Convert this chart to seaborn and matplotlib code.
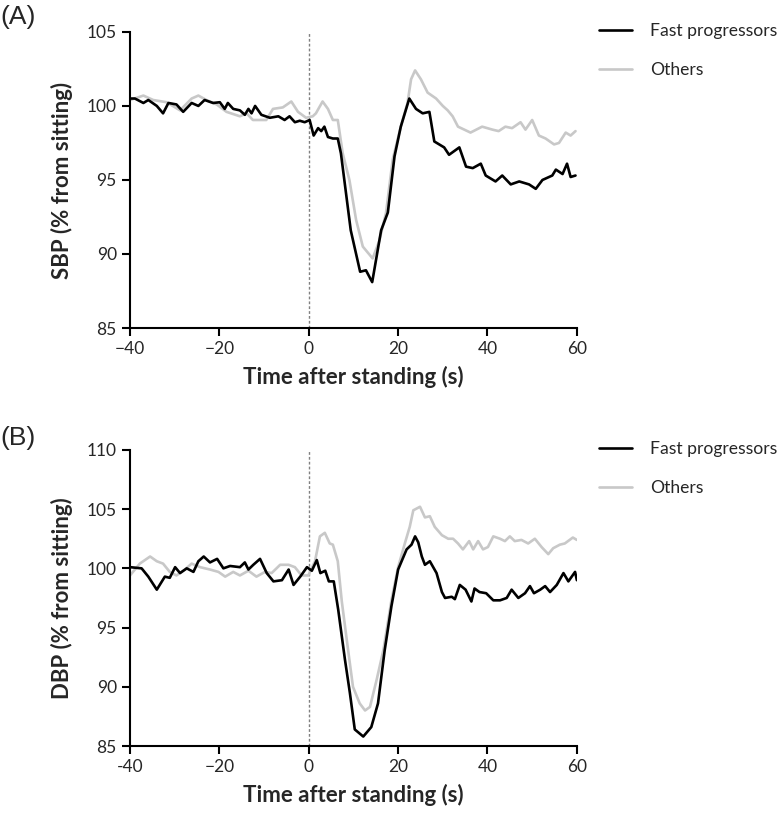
import matplotlib
matplotlib.use("Agg")
import matplotlib.pyplot as plt
import pandas as pd
import seaborn as sns

# ---- data ----
sbp_fast_t = [-40, -38.9, -37, -35.9, -34, -32.6, -31.4, -29.6, -28.1, -26.2, -24.7, -23.3, -21.4, -19.9,
              -18.8, -18.1, -16.9, -15.4, -14.3, -13.5, -12.8, -12, -10.6, -8.7, -6.8, -5.4, -4.3, -3.1,
              -2.0, -0.9, 0.2, 1.1, 2.1, 2.8, 3.5, 4.3, 5.4, 6.5, 7.2, 9.4, 11.5, 12.8, 13.5, 14.2, 16.2,
              17.7, 19.2, 20.6, 22.5, 24, 25.5, 27, 28.1, 30.3, 31.4, 33.7, 35.2, 36.7, 38.5, 39.6, 41.8,
              43.3, 45.2, 47.1, 49.3, 50.8, 52.3, 54.5, 55.3, 56.8, 57.8, 58.6, 59.7]
sbp_fast = [100.5, 100.5, 100.2, 100.4, 100.0, 99.5, 100.2, 100.1, 99.6, 100.2, 100.0, 100.4, 100.2, 100.25,
            99.8, 100.2, 99.8, 99.7, 99.4, 99.8, 99.5, 100.0, 99.4, 99.2, 99.3, 99.05, 99.3, 98.9,
            99.0, 98.9, 99.05, 98.0, 98.5, 98.3, 98.6, 97.9, 97.8, 97.8, 96.8, 91.6, 88.8, 88.9, 88.5, 88.1, 91.6,
            92.8, 96.6, 98.6, 100.5, 99.8, 99.5, 99.6, 97.6, 97.2, 96.7, 97.2, 95.9, 95.8, 96.1, 95.3, 94.9,
            95.3, 94.7, 94.9, 94.7, 94.4, 95.0, 95.3, 95.7, 95.4, 96.1, 95.2, 95.3]

sbp_other_t = [-40, -37, -34.8, -31.8, -28.8, -26.2, -24.7, -22.9, -20.6, -18.4, -15.4, -13.9, -12.5, -9.5,
               -8.0, -5.8, -3.9, -2.4, -0.6, 0.9, 1.6, 3.1, 4.3, 5.4, 6.5, 7.6, 9.1, 10.6, 12.1, 14.3, 15.8,
               17.3, 18.8, 20.6, 22.1, 22.9, 23.8, 25.1, 26.6, 28.5, 30, 31.1, 32.2, 33.4, 36.2, 38.8, 41.1,
               42.5, 44, 45.5, 47.4, 48.5, 50, 51.5, 53, 54.9, 56, 57.5, 58.6, 59.7]
sbp_other = [100.4, 100.7, 100.4, 100.25, 99.7, 100.5, 100.7, 100.4, 100.1, 99.6, 99.3, 99.5, 99.05, 99.05,
             99.8, 99.9, 100.3, 99.6, 99.2, 99.3, 99.5, 100.3, 99.8, 99.05, 99.05, 96.8, 95.0, 92.3, 90.5, 89.7, 90.9,
             92.8, 96.4, 98.6, 100.2, 101.8, 102.4, 101.8, 100.9, 100.5, 100.0, 99.7, 99.3, 98.6, 98.2, 98.6, 98.4,
             98.3, 98.6, 98.5, 98.9, 98.4, 99.05, 98.0, 97.8, 97.4, 97.5, 98.2, 98.0, 98.3]

dbp_fast_t = [-40, -37.4, -35.9, -34.0, -32.2, -31.1, -29.9, -28.8, -27.3, -25.8, -24.7, -23.5, -22.1, -20.5,
              -19.1, -17.6, -15.4, -14.3, -13.5, -12.4, -10.9, -9.4, -7.9, -6.0, -4.5, -3.4, -1.9, -0.4, 0.7,
              1.8, 2.6, 3.7, 4.5, 5.6, 6.6, 8.1, 9.2, 10.3, 12.2, 14.0, 15.5, 17.0, 18.5, 20.0, 21.9, 23.0,
              23.8, 24.5, 25.3, 26.0, 27.1, 28.6, 29.8, 30.5, 32.0, 32.7, 33.8, 35.1, 36.4, 37.1, 38.2, 39.7,
              41.3, 42.8, 44.3, 45.4, 46.9, 48.4, 49.5, 50.4, 51.8, 52.9, 54.0, 55.5, 57.0, 58.1, 59.6, 60]
dbp_fast = [100.1, 100.0, 99.3, 98.2, 99.3, 99.2, 100.1, 99.6, 100.0, 99.7, 100.6, 101.0, 100.5, 100.8,
            100.0, 100.2, 100.1, 100.5, 99.9, 100.3, 100.8, 99.6, 98.9, 99.0, 99.9, 98.6, 99.3, 100.1, 99.8,
            100.7, 99.6, 99.8, 98.9, 98.9, 96.5, 92.3, 89.5, 86.4, 85.8, 86.6, 88.6, 93.1, 96.8, 99.9, 101.6, 102.0,
            102.7, 102.2, 101.0, 100.3, 100.6, 99.6, 98.0, 97.5, 97.6, 97.4, 98.6, 98.2, 97.2, 98.3, 98.0, 97.9,
            97.3, 97.3, 97.5, 98.2, 97.5, 97.9, 98.5, 97.9, 98.2, 98.5, 98.0, 98.6, 99.6, 98.9, 99.7, 99.0]

dbp_other_t = [-40, -37.8, -35.5, -34, -32.6, -31.1, -29.6, -27.7, -26.2, -24.3, -22.1, -20.2, -18.7, -16.9,
               -15.4, -13.5, -11.7, -9.8, -8.3, -6.4, -4.5, -3.1, -1.6, -0.1, 1.4, 2.5, 3.6, 4.7, 5.4, 6.5,
               7.4, 8.6, 9.9, 11.4, 12.6, 13.7, 15.2, 16.7, 18.5, 20, 21.5, 22.6, 23.4, 24.9, 26.0, 27.1, 28.2,
               29.8, 31.2, 32.3, 33.4, 34.5, 35.9, 36.8, 37.9, 39.0, 40.1, 41.3, 42.8, 43.9, 45.0, 46.1, 47.6,
               49.1, 50.6, 52.1, 53.6, 54.7, 56.2, 57.3, 59.1, 60]
dbp_other = [99.4, 100.4, 101.0, 100.6, 100.4, 99.7, 99.4, 99.9, 100.4, 100.1, 99.9, 99.7, 99.3, 99.7,
             99.4, 99.8, 99.3, 99.7, 99.6, 100.3, 100.3, 100.1, 99.4, 99.4, 100.6, 102.7, 103.0, 102.1, 102.0, 100.6,
             97.2, 93.7, 90.0, 88.6, 88.0, 88.3, 90.6, 93.1, 97.3, 100.1, 102.1, 103.5, 104.9, 105.2, 104.3, 104.4, 103.5,
             102.8, 102.5, 102.5, 102.1, 101.6, 102.3, 101.6, 102.3, 101.6, 101.8, 102.7, 102.5, 102.3, 102.7, 102.3, 102.4,
             102.1, 102.5, 101.8, 101.2, 101.7, 102.0, 102.1, 102.6, 102.4]

groups = ["Fast progressors", "Others"]
xticks = [-40, -20, 0, 20, 40, 60]
xticklabels_a = ["\u221240", "\u221220", "0", "20", "40", "60"]
xticklabels_b = ["-40", "\u221220", "0", "20", "40", "60"]

sns.set_style("ticks")
plt.rcParams["font.family"] = ["Lato", "DejaVu Sans"]

fig = plt.figure(figsize=(7.84, 8.18), dpi=100)
ax_a = fig.add_axes([0.1658, 0.599, 0.570, 0.362])
ax_b = fig.add_axes([0.1658, 0.088, 0.570, 0.362])

palette = {"Fast progressors": "black", "Others": "#c8c8c8"}


def make_df(t1, v1, t2, v2):
    d1 = pd.DataFrame({"t": t1, "v": v1, "group": groups[0]})
    d2 = pd.DataFrame({"t": t2, "v": v2, "group": groups[1]})
    return pd.concat([d2, d1], ignore_index=True)


panels = [
    (ax_a, make_df(sbp_fast_t, sbp_fast, sbp_other_t, sbp_other), (85, 105), [85, 90, 95, 100, 105],
     "SBP (% from sitting)", xticklabels_a, "(A)", 1 - 17 / 818),
    (ax_b, make_df(dbp_fast_t, dbp_fast, dbp_other_t, dbp_other), (85, 110), [85, 90, 95, 100, 105, 110],
     "DBP (% from sitting)", xticklabels_b, "(B)", 1 - 438 / 818),
]

for ax, df, ylim, yticks, ylabel, xtl, tag, tag_y in panels:
    ax.axvline(0, color="#808080", lw=1, ls=(0, (2, 1.5)), zorder=1)
    sns.lineplot(data=df, x="t", y="v", hue="group", palette=palette, estimator=None,
                 linewidth=1.9, ax=ax, zorder=2)
    ax.set_xlim(-40, 60)
    ax.set_ylim(*ylim)
    ax.set_xticks(xticks)
    ax.set_xticklabels(xtl)
    ax.set_yticks(yticks)
    ax.set_xlabel("Time after standing (s)", fontsize=16, fontweight="bold", labelpad=6)
    ax.set_ylabel(ylabel, fontsize=16, fontweight="bold", labelpad=10)
    ax.tick_params(labelsize=12.5, length=6, width=1.5, color="black")
    for s in ["left", "bottom"]:
        ax.spines[s].set_linewidth(1.5)
        ax.spines[s].set_color("black")
    sns.despine(ax=ax)

    # legend outside, first entry aligned with the top of the axes
    handles, labels = ax.get_legend_handles_labels()
    order = [labels.index(g) for g in groups]
    ax.legend([handles[i] for i in order], [labels[i] for i in order],
              loc="upper left", bbox_to_anchor=(1.05, 1.03), frameon=False,
              borderaxespad=0, borderpad=0, fontsize=12.6, handlelength=1.9,
              handletextpad=1.0, labelspacing=1.3)
    fig.text(0.0, tag_y, tag, fontsize=19, family="Liberation Sans", va="center", ha="left")

fig.savefig("out.png", dpi=100)
